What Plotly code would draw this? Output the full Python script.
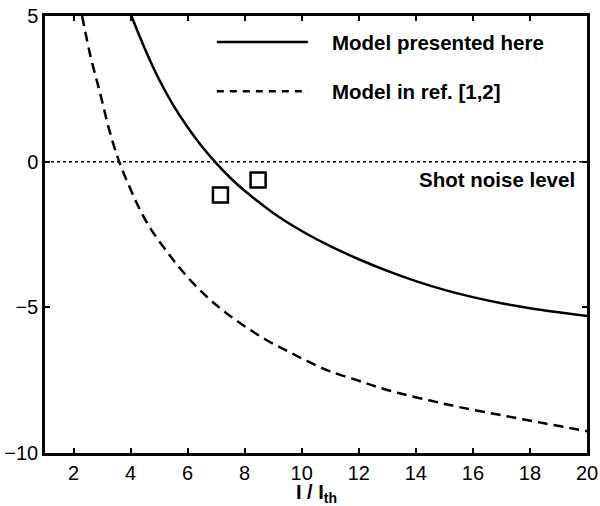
import plotly.graph_objects as go

# Model presented here (solid)
solid_x = [4.03, 4.5, 5.0, 5.5, 6.0, 6.5, 7.0, 7.5, 8.0, 9.0, 10.0, 11.0, 12.0, 13.0, 14.0, 15.0, 16.0, 17.0, 18.0, 19.0, 20.0]
solid_y = [5.0, 3.88, 2.82, 1.93, 1.18, 0.52, -0.05, -0.56, -1.0, -1.76, -2.38, -2.9, -3.35, -3.75, -4.1, -4.4, -4.65, -4.86, -5.03, -5.17, -5.3]

# Model in ref. [1,2] (dashed)
dash_x = [2.3, 2.6, 2.93, 3.25, 3.6, 4.0, 4.33, 4.7, 5.14, 5.6, 6.19, 6.8, 7.36, 8.0, 8.76, 9.5, 10.2, 11.0, 12.0, 12.61, 13.43, 14.5, 15.5, 16.93, 18.5, 20.0]
dash_y = [5.0, 3.6, 2.36, 1.1, 0.0, -0.95, -1.65, -2.3, -2.91, -3.5, -4.17, -4.75, -5.2, -5.65, -6.12, -6.5, -6.85, -7.2, -7.52, -7.72, -7.95, -8.2, -8.42, -8.69, -8.98, -9.25]

# Measured points (squares)
meas_x = [7.15, 8.47]
meas_y = [-1.14, -0.63]

# Shot noise level
shot_x = [1, 20]
shot_y = [0, 0]

x_ticks = [2, 4, 6, 8, 10, 12, 14, 16, 18, 20]
y_ticks = [-10, -5, 0, 5]
y_tick_text = ["\u221210", "\u22125", "0", "5"]

legend_labels = ["Model presented here", "Model in ref. [1,2]"]
shot_label = "Shot noise level"
x_title = "<b>I / I<sub>th</sub></b>"

fig = go.Figure()
fig.add_trace(go.Scatter(x=shot_x, y=shot_y, mode="lines",
                         line=dict(color="black", width=1.5, dash="dot"), showlegend=False))
fig.add_trace(go.Scatter(x=dash_x, y=dash_y, mode="lines", line_shape="spline",
                         line=dict(color="black", width=2.5, dash="10px,6px"), showlegend=False))
fig.add_trace(go.Scatter(x=solid_x, y=solid_y, mode="lines", line_shape="spline",
                         line=dict(color="black", width=2.5), showlegend=False))
fig.add_trace(go.Scatter(x=meas_x, y=meas_y, mode="markers",
                         marker=dict(symbol="square-open", size=15, color="black",
                                     line=dict(width=2.5, color="black")),
                         showlegend=False))

font = dict(family="Liberation Sans, Arial, sans-serif", color="black")

# legend drawn as shapes/annotations in paper space
fig.add_shape(type="line", xref="paper", yref="paper", x0=0.317, x1=0.485, y0=0.9405, y1=0.9405,
              line=dict(color="black", width=2.5))
fig.add_shape(type="line", xref="paper", yref="paper", x0=0.317, x1=0.485, y0=0.828, y1=0.828,
              line=dict(color="black", width=2.5, dash="7px,6px"))
fig.add_annotation(xref="paper", yref="paper", x=0.526, y=0.9405, text="<b>%s</b>" % legend_labels[0],
                   showarrow=False, xanchor="left", yanchor="middle", font=dict(size=20.5, **font))
fig.add_annotation(xref="paper", yref="paper", x=0.526, y=0.828, text="<b>%s</b>" % legend_labels[1],
                   showarrow=False, xanchor="left", yanchor="middle", font=dict(size=20.5, **font))
fig.add_annotation(xref="paper", yref="paper", x=0.982, y=0.625, text="<b>%s</b>" % shot_label,
                   showarrow=False, xanchor="right", yanchor="middle", font=dict(size=20.5, **font))
fig.add_annotation(xref="paper", yref="paper", x=0.5, y=0, yshift=-26, text=x_title,
                   showarrow=False, xanchor="center", yanchor="top", font=dict(size=20, **font))

axis_common = dict(showline=True, linecolor="black", linewidth=2.5, mirror="ticks",
                   ticks="inside", ticklen=5, tickwidth=2, tickcolor="black", automargin=False,
                   showgrid=False, zeroline=False, tickfont=dict(size=20, **font))

fig.update_xaxes(range=[1, 20], tickvals=x_ticks, ticktext=[str(v) for v in x_ticks], **axis_common)
fig.update_yaxes(range=[-10, 5], tickvals=y_ticks, ticktext=y_tick_text, ticklabeloverflow="allow", **axis_common)

fig.update_layout(width=600, height=506, margin=dict(l=45, r=13, t=16, b=53),
                  plot_bgcolor="white", paper_bgcolor="white", showlegend=False)

# remove the default 8px page margin so the figure fills the window exactly
fig.write_html("out.html", config={"displayModeBar": False},
               post_script="document.body.style.margin='0';document.body.style.overflow='hidden';")
